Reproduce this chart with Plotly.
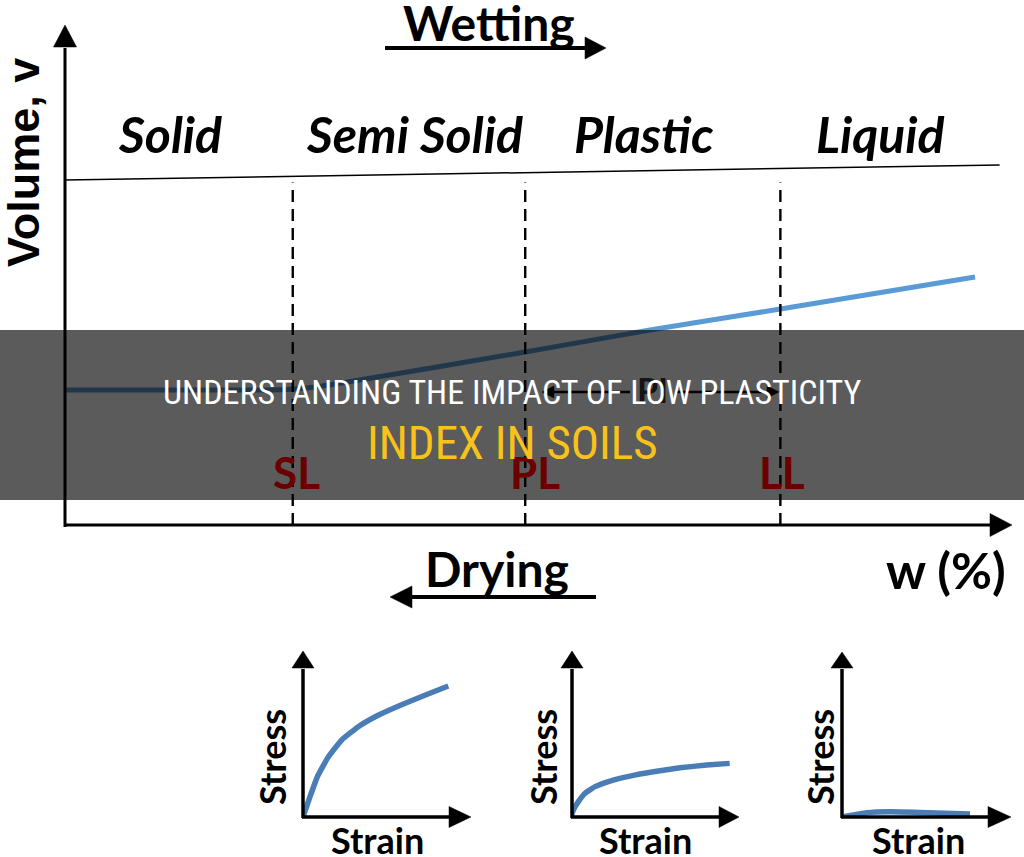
import plotly.graph_objects as go

W, H = 1024, 857

# ---------------- data ----------------
# main volume vs water-content diagram (arbitrary units: w 0-100, v 0-100)
vol_w = [0, 19.6, 23.5, 26.5, 30.2, 48.7, 61.9, 75.7, 96.3]
vol_v = [27, 27, 27.1, 27.6, 28.7, 34.6, 39.0, 43.2, 49.6]
top_w = [0, 98.9]
top_v = [69, 72]
limit_names = ["SL", "PL", "LL"]
limit_w = [24.1, 48.7, 75.7]
limit_top_v = 68.5
phase_names = ["Solid", "Semi Solid", "Plastic", "Liquid"]

# stress-strain sketches (strain 0-10, stress 0-10)
s1_strain = [0, 0.42, 0.86, 1.52, 2.32, 3.31, 4.41, 6.01, 7.41, 8.70]
s1_stress = [0, 1.23, 2.44, 3.65, 4.67, 5.47, 6.12, 6.85, 7.42, 7.94]
s2_strain = [0, 0.14, 0.44, 0.84, 1.44, 2.34, 3.53, 4.93, 6.53, 8.13, 9.50]
s2_stress = [0, 0.42, 0.93, 1.44, 1.84, 2.18, 2.48, 2.74, 2.98, 3.15, 3.25]
s3_strain = [0, 1.47, 2.86, 4.64, 7.62]
s3_stress = [0, 0.26, 0.32, 0.28, 0.18]

title_line1 = "UNDERSTANDING THE IMPACT OF LOW PLASTICITY"
title_line2 = "INDEX IN SOILS"

# ---------------- helpers ----------------
def fx(x):
    return x / W


def fy(y):
    return 1 - y / H


shapes = []


def seg(x0, y0, x1, y1, w=3, color="black"):
    shapes.append(dict(type="line", xref="paper", yref="paper",
                       x0=fx(x0), y0=fy(y0), x1=fx(x1), y1=fy(y1),
                       line=dict(color=color, width=w), layer="above"))


def tri(p1, p2, p3, color="black"):
    path = "M {} {} L {} {} L {} {} Z".format(fx(p1[0]), fy(p1[1]), fx(p2[0]), fy(p2[1]),
                                             fx(p3[0]), fy(p3[1]))
    shapes.append(dict(type="path", xref="paper", yref="paper", path=path,
                       fillcolor=color, line=dict(color=color, width=0.5), layer="above"))


def arrow_right(x0, x1, y, base, half, w=3):
    seg(x0, y, base + 1, y, w)
    tri((x1, y), (base, y - half), (base, y + half))


def arrow_left(x0, x1, y, base, half, w=3):
    seg(x0, y, base - 1, y, w)
    tri((x1, y), (base, y - half), (base, y + half))


def arrow_up(x, y0, y1, base, half, w=3):
    seg(x, y0, x, base + 1, w)
    tri((x, y1), (x - half, base), (x + half, base))


fig = go.Figure()

# main curve and lines
MAIN_BLUE = "#5B9BD5"
fig.add_trace(go.Scatter(x=vol_w, y=vol_v, mode="lines",
                         line=dict(color=MAIN_BLUE, width=5, shape="spline", smoothing=0.6),
                         xaxis="x", yaxis="y", hoverinfo="skip"))
fig.add_trace(go.Scatter(x=top_w, y=top_v, mode="lines",
                         line=dict(color="black", width=1.5),
                         xaxis="x", yaxis="y", hoverinfo="skip"))
for wv in limit_w:
    fig.add_trace(go.Scatter(x=[wv, wv], y=[0, limit_top_v], mode="lines",
                             line=dict(color="black", width=2.4, dash="12px,7px"),
                             xaxis="x", yaxis="y", hoverinfo="skip"))

MINI_BLUE = "#4A7DB5"
for i, (sx, sy) in enumerate([(s1_strain, s1_stress), (s2_strain, s2_stress),
                              (s3_strain, s3_stress)]):
    fig.add_trace(go.Scatter(x=sx, y=sy, mode="lines",
                             line=dict(color=MINI_BLUE, width=5.5, shape="spline", smoothing=0.35),
                             xaxis="x%d" % (i + 2), yaxis="y%d" % (i + 2), hoverinfo="skip"))

# ---------------- arrows (shapes) ----------------
# main axes
arrow_up(65, 527, 25, 47, 11.5, 3)
arrow_right(64, 1012, 525, 990, 11.5, 3)
# wetting / drying arrows
arrow_right(385, 606, 48, 585, 11, 4)
arrow_left(596, 390, 597, 412, 11, 4)
# PI arrows (under the banner)
arrow_left(630, 542, 392, 554, 6, 2.5)
arrow_right(676, 779, 392, 767, 6, 2.5)
# mini charts
arrow_up(303, 818, 651, 668, 11, 3.5)
arrow_right(302, 471, 817, 449, 10.5, 3.5)
arrow_up(572, 818, 651, 668, 11, 3.5)
arrow_right(571, 739, 817, 719, 10.5, 3.5)
arrow_up(842, 818, 652, 668, 11, 3.5)
arrow_right(841, 1011, 817, 988, 10.5, 3.5)

# banner overlay
shapes.append(dict(type="rect", xref="paper", yref="paper", x0=0, x1=1,
                   y0=fy(500), y1=fy(330), fillcolor="rgba(0,0,0,0.645)",
                   line=dict(width=0), layer="above"))

# ---------------- text ----------------
ann = []
BOLD = "Lato"


def txt(x, y, s, size, color="black", family=BOLD, angle=0, italic=False, weight="bold"):
    ann.append(dict(xref="paper", yref="paper", x=fx(x), y=fy(y), text=s, showarrow=False,
                    xanchor="center", yanchor="middle", textangle=angle,
                    font=dict(family=family, size=size, color=color, weight=weight,
                              style="italic" if italic else "normal")))


txt(489, 23, "Wetting", 48)
txt(497, 568, "Drying", 48)
txt(946, 570, "w (%)", 50)
txt(23, 163, "Volume, v", 45, family="Liberation Sans", angle=-90)

phase_x = [170, 414, 644, 880]
for name, px in zip(phase_names, phase_x):
    txt(px, 134, name, 50, italic=True)

label_dx = [4, 10, 2]
for name, wv, dx in zip(limit_names, limit_w, label_dx):
    ann.append(dict(xref="x", yref="y", x=wv, y=10.6, xshift=dx, text=name, showarrow=False,
                    xanchor="center", yanchor="middle",
                    font=dict(family=BOLD, size=44, color="#6A0000", weight="bold")))
txt(652, 389, "PI", 34, color="#141414")

for sx in [272, 543, 820]:
    txt(sx, 757, "Stress", 36, angle=-90)
for cx in [377, 645, 918]:
    txt(cx, 840, "Strain", 36)

NARROW = "Liberation Sans Narrow, Arial Narrow, Roboto Condensed, sans-serif"
txt(512, 392, title_line1, 34, color="white", family=NARROW, weight="normal")
txt(512, 442, title_line2, 47, color="#F9C21B", family=NARROW, weight="normal")

# ---------------- layout ----------------
hid = dict(visible=False, showgrid=False, zeroline=False, fixedrange=True)
layout = dict(
    width=W, height=H, margin=dict(l=0, r=0, t=0, b=0),
    paper_bgcolor="white", plot_bgcolor="rgba(0,0,0,0)", showlegend=False,
    xaxis=dict(domain=[fx(65), fx(1010)], range=[0, 100], **hid),
    yaxis=dict(domain=[fy(525), fy(25)], range=[0, 100], **hid),
    shapes=shapes, annotations=ann,
)
mini = [(303, 470, 817, 652), (571, 738, 817, 652), (842, 1010, 817, 652)]
for i, (x0, x1, y0, y1) in enumerate(mini):
    k = i + 2
    layout["xaxis%d" % k] = dict(domain=[fx(x0), fx(x1)], range=[0, 10], anchor="y%d" % k, **hid)
    layout["yaxis%d" % k] = dict(domain=[fy(y0), fy(y1)], range=[0, 10], anchor="x%d" % k, **hid)

fig.update_layout(**layout)
fig.write_html("out.html")
